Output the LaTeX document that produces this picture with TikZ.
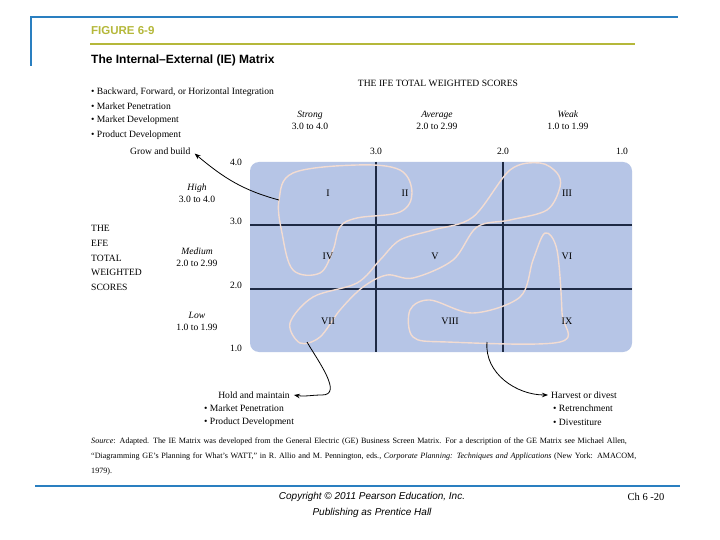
\documentclass[tikz,border=0pt]{standalone}
\usepackage{fontspec}
\setmainfont{Liberation Serif}
\newfontfamily\hsans{Liberation Sans}
\usetikzlibrary{arrows.meta}
\definecolor{frameblue}{HTML}{2A7FC0}
\definecolor{olive}{HTML}{B5B83A}
\definecolor{matfill}{HTML}{B6C5E6}
\definecolor{gridc}{HTML}{1E2A44}
\definecolor{loopc}{HTML}{F2DCD2}
\begin{document}
\begin{tikzpicture}[x=1pt,y=-1pt,
  txt/.style={font=\fontsize{9.6}{12}\selectfont, inner sep=0pt},
  lbl/.style={txt, align=center},
  lft/.style={txt, anchor=west},
  roman/.style={font=\fontsize{10}{11}\selectfont, inner sep=0pt},
  gridl/.style={gridc, line width=1.1pt},
  loop/.style={loopc, line width=1.4pt},
  arr/.style={-{Stealth[length=6pt]}, line width=0.8pt, black}]
\useasboundingbox (0,0) rectangle (720,540);
\fill[white] (0,0) rectangle (720,540);
% frame
\draw[frameblue, line width=2pt] (30,17) -- (678,17);
\draw[frameblue, line width=2pt] (31,17) -- (31,66);
\draw[frameblue, line width=2pt] (35,486) -- (680,486);
\draw[olive, line width=2.2pt] (90,44) -- (635,44);
\node[anchor=west, inner sep=0pt, text=olive, font=\hsans\bfseries\fontsize{11.5}{12}\selectfont] (fig) at (91,31) {FIGURE 6-9};
\node[anchor=west, inner sep=0pt, font=\hsans\bfseries\fontsize{12}{12}\selectfont] (title) at (91,60) {The Internal–External (IE) Matrix};
% matrix
\node[draw=none, fill=matfill, rounded corners=9pt, minimum width=382pt, minimum height=190pt, inner sep=0pt] (mat) at (441,257) {};
\draw[gridl] (376,162) -- (376,352);
\draw[gridl] (503,162) -- (503,352);
\draw[gridl] (250,225) -- (632,225);
\draw[gridl] (250,289) -- (632,289);
% loops
\draw[loop] plot[smooth cycle, tension=0.6] coordinates {(293,173) (357,165) (400,170) (412,193) (400,212) (357,218) (340,227) (333,250) (320,273) (293,270) (282,233) (279,200)};
\draw[loop] plot[smooth cycle, tension=0.55] coordinates {(557,173) (540,163) (510,170) (473,217) (433,230) (400,240) (380,260) (357,283) (313,297) (290,323) (300,343) (320,337) (340,310) (363,287) (387,275) (413,278) (453,260) (477,227) (510,220) (547,210) (560,187)};
\draw[loop] plot[smooth cycle, tension=0.55] coordinates {(545,233) (533,260) (520,297) (473,313) (430,300) (410,310) (413,337) (447,342) (560,342) (562,313) (557,250)};
\coordinate (l1) at (279,200);
\coordinate (l2) at (307,342);
\coordinate (l3) at (487,342);
% scale labels
\node[txt] (c3) at (376,151) {3.0};
\node[txt] (c2) at (503,151) {2.0};
\node[txt] (c1) at (622,151) {1.0};
\node[txt] (r4) at (236,162) {4.0};
\node[txt] (r3) at (236,221) {3.0};
\node[txt] (r2) at (236,285) {2.0};
\node[txt] (r1) at (236,348) {1.0};
% roman numerals
\node[roman] (n1) at (328,193) {I};
\node[roman] (n2) at (405,193) {II};
\node[roman] (n3) at (567,193) {III};
\node[roman] (n4) at (328,256) {IV};
\node[roman] (n5) at (435,256) {V};
\node[roman] (n6) at (567,256) {VI};
\node[roman] (n7) at (328,321) {VII};
\node[roman] (n8) at (450,321) {VIII};
\node[roman] (n9) at (567,321) {IX};
% top texts
\node[txt] (ife) at (438,83) {THE IFE TOTAL WEIGHTED SCORES};
\node[lbl] (strong) at (310,120) {\textit{Strong}\\3.0 to 4.0};
\node[lbl] (avg) at (437,120) {\textit{Average}\\2.0 to 2.99};
\node[lbl] (weak) at (568,120) {\textit{Weak}\\1.0 to 1.99};
\node[lft] (b1) at (91,92) {\textbullet\ Backward, Forward, or Horizontal Integration};
\node[lft] (b2) at (91,106) {\textbullet\ Market Penetration};
\node[lft] (b3) at (91,120) {\textbullet\ Market Development};
\node[lft] (b4) at (91,135) {\textbullet\ Product Development};
\node[lft] (grow) at (130,151) {Grow and build};
% left texts
\node[lbl] (high) at (197,193) {\textit{High}\\3.0 to 4.0};
\node[lbl] (med) at (197,257) {\textit{Medium}\\2.0 to 2.99};
\node[lbl] (low) at (197,321) {\textit{Low}\\1.0 to 1.99};
\node[txt, align=left, anchor=west, font=\fontsize{9.6}{14.7}\selectfont] (efe) at (91,258) {THE\\EFE\\TOTAL\\WEIGHTED\\SCORES};
% bottom texts
\node[txt] (hold) at (254,395) {Hold and maintain};
\node[lft] (h1) at (204,408) {\textbullet\ Market Penetration};
\node[lft] (h2) at (204,422) {\textbullet\ Product Development};
\node[lft] (harv) at (551,395) {Harvest or divest};
\node[lft] (v1) at (553,408) {\textbullet\ Retrenchment};
\node[lft] (v2) at (553,422) {\textbullet\ Divestiture};
\node[txt, anchor=north west, align=left, text width=550pt, font=\fontsize{8.1}{15}\selectfont] (src) at (91,438) {\textit{Source}: Adapted. The IE Matrix was developed from the General Electric (GE) Business Screen Matrix. For a description of the GE Matrix see Michael Allen, ``Diagramming GE's Planning for What's WATT,'' in R. Allio and M. Pennington, eds., \textit{Corporate Planning: Techniques and Applications} (New York: AMACOM, 1979).};
% arrows
\draw[arr] (l1) to[out=165, in=-40] ([xshift=4pt,yshift=1pt]grow.south east);
\draw[arr] (l2) to[out=-60, in=0] (322,395) to[out=180,in=-10] ([xshift=4pt]hold.east);
\draw[arr] (l3) to[out=-95, in=180] ([xshift=-3pt]harv.west);
% footer
\node[lbl, font=\hsans\itshape\fontsize{10}{16}\selectfont] (copy) at (372,505) {Copyright \textcopyright\ 2011 Pearson Education, Inc.\\Publishing as Prentice Hall};
\node[txt, font=\fontsize{10.5}{12}\selectfont] (ch) at (646,497) {Ch 6 -20};
\end{tikzpicture}
\end{document}
